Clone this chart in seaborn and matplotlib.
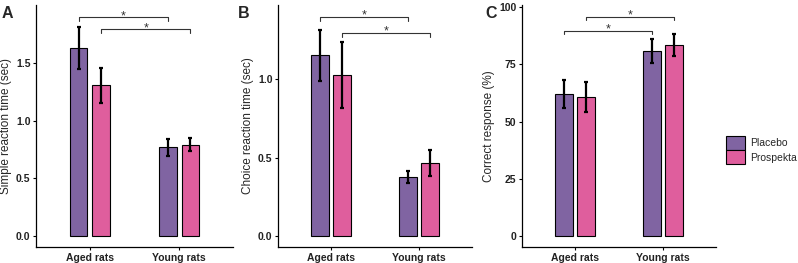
import seaborn as sns
import pandas as pd
import matplotlib.pyplot as plt
from matplotlib.patches import Patch

# data (mean and error bar half-length)
groups = ["Aged rats", "Young rats"]
treatments = ["Placebo", "Prospekta"]

simple_placebo = [1.63, 0.767]
simple_prospekta = [1.305, 0.79]
simple_placebo_err = [0.18, 0.076]
simple_prospekta_err = [0.153, 0.055]

choice_placebo = [1.153, 0.378]
choice_prospekta = [1.025, 0.468]
choice_placebo_err = [0.163, 0.04]
choice_prospekta_err = [0.21, 0.083]

correct_placebo = [62.1, 80.9]
correct_prospekta = [60.9, 83.5]
correct_placebo_err = [6.05, 5.1]
correct_prospekta_err = [6.55, 5.0]

# significance brackets: (from bar, to bar, height) ; bar index = (hue, group)
brackets_a = [((0, 0), (0, 1), 1.897), ((1, 0), (1, 1), 1.793)]
brackets_b = [((0, 0), (0, 1), 1.40), ((1, 0), (1, 1), 1.297)]
brackets_c = [((1, 0), (1, 1), 95.9), ((0, 0), (0, 1), 89.8)]

placebo_color = "#8064A2"
prospekta_color = "#DF5E9D"
palette = [placebo_color, prospekta_color]


def make_df(plac, pros, plac_err, pros_err):
    rows = []
    for i, g in enumerate(groups):
        rows.append([g, "Placebo", plac[i], plac_err[i]])
        rows.append([g, "Prospekta", pros[i], pros_err[i]])
    return pd.DataFrame(rows, columns=["group", "treatment", "mean", "err"])


def draw_panel(ax, df, ylabel, ylim, yticks, brackets, tick_drop):
    sns.barplot(data=df, x="group", y="mean", hue="treatment", order=groups,
                hue_order=treatments, palette=palette, errorbar=None,
                width=0.5, gap=0.2, edgecolor="black", linewidth=0.8,
                saturation=1, legend=False, ax=ax)
    centers = {}
    bar_conts = list(ax.containers)
    for h, cont in enumerate(bar_conts):
        sub = df[df["treatment"] == treatments[h]].set_index("group").loc[groups]
        xs = [b.get_x() + b.get_width() / 2 for b in cont]
        ys = [b.get_height() for b in cont]
        ax.errorbar(xs, ys, yerr=sub["err"].values, fmt="none", ecolor="black",
                    elinewidth=1.6, capsize=1.6, capthick=1.6, zorder=5)
        for g, x in enumerate(xs):
            centers[(h, g)] = x
    for a, b, y in brackets:
        x1, x2 = centers[a], centers[b]
        ax.plot([x1, x1, x2, x2], [y - tick_drop, y, y, y - tick_drop],
                color="#333333", lw=0.8, clip_on=False)
        ax.annotate("*", xy=((x1 + x2) / 2, y), xytext=(0, -1.5),
                    textcoords="offset points", ha="center", va="baseline",
                    fontsize=9, color="#333333")
    ax.set_xlim(-0.6, 1.6)
    ax.set_ylim(*ylim)
    ax.set_yticks(yticks)
    ax.set_xlabel("")
    ax.set_ylabel(ylabel, fontsize=8.5, labelpad=3)
    for s in ["top", "right"]:
        ax.spines[s].set_visible(False)
    for s in ["left", "bottom"]:
        ax.spines[s].set_color("black")
        ax.spines[s].set_linewidth(0.9)
    ax.tick_params(axis="both", length=2.5, width=0.8, color="black",
                   labelsize=7.5, pad=1.5, left=True, bottom=True)
    for lab in ax.get_xticklabels() + ax.get_yticklabels():
        lab.set_fontweight("bold")
        lab.set_color("#222222")


sns.set_style("white")
plt.rcParams['font.family'] = ['Liberation Sans', 'DejaVu Sans']

fig = plt.figure(figsize=(7.98, 2.63), dpi=100)
W, H = 798, 263


def add_ax(left, right, top=5, bottom=247):
    return fig.add_axes([left / W, (H - bottom) / H, (right - left) / W, (bottom - top) / H])


ax_a = add_ax(36, 233)
ax_b = add_ax(278, 472)
ax_c = add_ax(522, 716)

draw_panel(ax_a, make_df(simple_placebo, simple_prospekta, simple_placebo_err, simple_prospekta_err),
           "Simple reaction time (sec)", (-0.095, 2.0), [0, 0.5, 1.0, 1.5], brackets_a, 0.035)
draw_panel(ax_b, make_df(choice_placebo, choice_prospekta, choice_placebo_err, choice_prospekta_err),
           "Choice reaction time (sec)", (-0.07, 1.474), [0, 0.5, 1.0], brackets_b, 0.026)
draw_panel(ax_c, make_df(correct_placebo, correct_prospekta, correct_placebo_err, correct_prospekta_err),
           "Correct response (%)", (-4.8, 101), [0, 25, 50, 75, 100], brackets_c, 1.6)

for lab, x in [("A", 2), ("B", 238), ("C", 485)]:
    fig.text(x / W, 1 - 13 / H, lab, fontsize=11.5, fontweight="bold", va="center", ha="left")

handles = [Patch(facecolor=c, edgecolor="black", linewidth=0.8) for c in palette]
fig.legend(handles, treatments, loc="center left", bbox_to_anchor=(717 / W, (H - 150) / H),
           frameon=False, fontsize=7.5, handlelength=1.75, handleheight=1.75,
           labelspacing=0.0, handletextpad=0.5, borderpad=0.4)

fig.savefig("out.png", dpi=100)
